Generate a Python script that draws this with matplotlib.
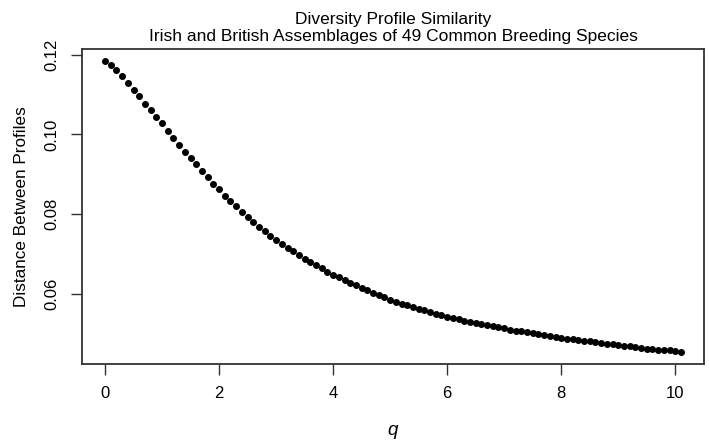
import matplotlib
matplotlib.use("Agg")
import matplotlib.pyplot as plt
from matplotlib import font_manager

q = [round(0.1 * i, 1) for i in range(102)]
distance = [
    0.11850, 0.11743, 0.11608, 0.11458, 0.11283, 0.11125, 0.10968, 0.10775, 0.10608, 0.10425,
    0.10275, 0.10083, 0.09908, 0.09725, 0.09558, 0.09400, 0.09250, 0.09083, 0.08925, 0.08758,
    0.08625, 0.08458, 0.08333, 0.08195, 0.08058, 0.07930, 0.07808, 0.07683, 0.07575, 0.07458,
    0.07350, 0.07250, 0.07158, 0.07068, 0.06975, 0.06883, 0.06800, 0.06718, 0.06643, 0.06558,
    0.06483, 0.06418, 0.06343, 0.06283, 0.06218, 0.06150, 0.06093, 0.06025, 0.05968, 0.05918,
    0.05858, 0.05808, 0.05758, 0.05708, 0.05668, 0.05625, 0.05583, 0.05543, 0.05500, 0.05468,
    0.05425, 0.05393, 0.05358, 0.05325, 0.05295, 0.05268, 0.05243, 0.05218, 0.05193, 0.05163,
    0.05133, 0.05105, 0.05080, 0.05058, 0.05035, 0.05013, 0.04990, 0.04968, 0.04945, 0.04923,
    0.04900, 0.04880, 0.04863, 0.04843, 0.04823, 0.04805, 0.04788, 0.04768, 0.04750, 0.04733,
    0.04718, 0.04700, 0.04680, 0.04663, 0.04645, 0.04628, 0.04613, 0.04600, 0.04590, 0.04580,
    0.04570, 0.04533,
]
x_ticks = [0, 2, 4, 6, 8, 10]
y_ticks = [0.06, 0.08, 0.10, 0.12]
title_text = "Diversity Profile Similarity\nIrish and British Assemblages of 49 Common Breeding Species"
x_label = "q"
y_label = "Distance Between Profiles"

names = {f.name for f in font_manager.fontManager.ttflist}
fam = ["Liberation Sans Narrow", "DejaVu Sans"] if "Liberation Sans Narrow" in names else ["Liberation Sans", "DejaVu Sans"]
plt.rcParams["font.family"] = fam

fig = plt.figure(figsize=(7.09, 4.44), dpi=100)
ax = fig.add_axes([82 / 709, 1 - 364 / 444, (704 - 82) / 709, (364 - 49) / 444])

ax.plot(q, distance, "o", color="black", markersize=4.0, linestyle="none")

xr = max(q) - min(q)
ax.set_xlim(min(q) - 0.04 * xr, max(q) + 0.04 * xr)
yr = max(distance) - min(distance)
ax.set_ylim(min(distance) - 0.04 * yr, max(distance) + 0.04 * yr)

ax.set_xticks(x_ticks)
ax.set_xticklabels([str(t) for t in x_ticks])
ax.set_yticks(y_ticks)
ax.set_yticklabels([f"{t:.2f}" for t in y_ticks], rotation=90, va="center")
ax.tick_params(axis="both", direction="out", length=8, width=1.0, color="#333333",
               labelsize=12, pad=8)
for s in ax.spines.values():
    s.set_linewidth(1.3)
    s.set_color("#333333")

ax.set_xlabel(x_label, fontsize=13.5, style="italic", labelpad=15)
ax.set_ylabel(y_label, fontsize=12.3, labelpad=11)
ax.set_title(title_text, fontsize=12.5, linespacing=1.15, pad=6)

fig.savefig("out.png", dpi=100)
